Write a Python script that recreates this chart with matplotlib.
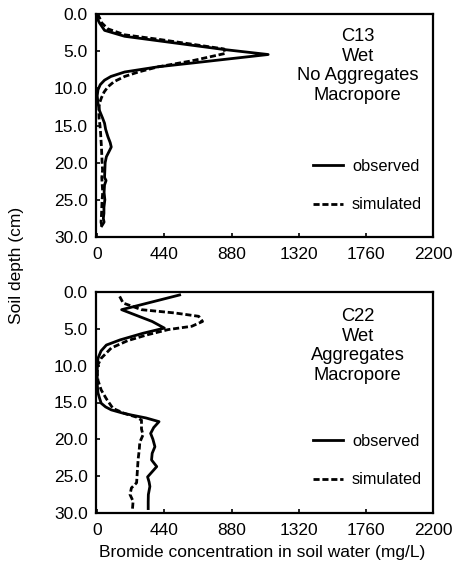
import matplotlib
matplotlib.use("Agg")
import matplotlib.pyplot as plt

plt.rcParams['font.family'] = ['Liberation Sans', 'DejaVu Sans']

# ---- data: top panel (C13) ----
c13_obs_depth = [0.0, 0.6, 1.2, 2.2, 3.0, 3.6, 4.2, 4.8, 5.45, 6.0, 6.6, 7.1, 7.8, 8.4, 8.9, 9.5, 10.2,
                 11.0, 12.0, 13.0, 14.0, 14.7, 15.5, 16.5, 17.3, 17.9, 18.6, 19.2, 20.0, 21.0, 22.0,
                 22.4, 23.0, 24.0, 25.0, 26.0, 26.8, 27.5, 28.0, 28.5]
c13_obs_conc = [10, 0, 15, 48, 180, 400, 620, 840, 1120, 880, 620, 400, 180, 90, 48, 20, 5,
                0, 5, 15, 35, 48, 55, 70, 85, 92, 75, 60, 52, 50, 48,
                58, 48, 45, 50, 44, 44, 40, 45, 30]

c13_sim_depth = [0.0, 0.5, 1.2, 2.0, 2.8, 3.4, 4.0, 4.7, 5.3, 6.3, 7.1, 7.8, 8.4, 9.1, 9.8, 10.5,
                 11.3, 12.0, 13.0, 14.0, 15.0, 16.0, 17.0, 18.0, 19.0, 20.0, 21.0, 22.0, 23.0,
                 24.0, 25.0, 26.0, 27.0, 28.0, 28.5]
c13_sim_conc = [0, 15, 30, 70, 180, 400, 600, 830, 840, 620, 400, 270, 180, 110, 70, 45,
                27, 15, 10, 12, 18, 22, 25, 28, 30, 32, 35, 30, 33,
                36, 32, 30, 28, 25, 30]

# ---- data: bottom panel (C22) ----
c22_obs_depth = [0.4, 1.4, 2.4, 3.2, 4.0, 4.9, 5.6, 6.5, 7.2, 8.0, 9.0, 10.5, 11.5, 12.5, 13.7,
                 14.4, 15.1, 15.6, 16.0, 16.4, 16.7, 17.1, 17.6, 18.4, 19.2, 20.0, 21.0, 21.9,
                 22.8, 23.7, 24.4, 25.1, 25.8, 26.4, 27.5, 28.5, 29.4]
c22_obs_conc = [540, 350, 160, 260, 360, 440, 300, 150, 60, 25, 5, 0, 0, 0, 5,
                15, 26, 55, 92, 160, 224, 320, 405, 370, 350, 365, 378, 360,
                356, 390, 360, 330, 340, 345, 335, 334, 334]

c22_sim_depth = [0.6, 1.5, 2.4, 2.85, 3.3, 4.0, 4.65, 5.1, 5.8, 6.6, 7.6, 9.0, 9.9, 11.0, 12.0,
                 13.3, 14.5, 15.8, 16.5, 17.0, 17.4, 18.6, 19.4, 20.4, 21.5, 22.7, 24.6, 25.9,
                 26.6, 27.5, 28.4, 29.7]
c22_sim_conc = [147, 170, 290, 510, 665, 690, 620, 466, 330, 200, 92, 26, 4, 0, 5,
                26, 60, 103, 180, 260, 290, 290, 300, 279, 275, 268, 262, 258,
                224, 215, 235, 230]

xticks = [0, 440, 880, 1320, 1760, 2200]
yticks = [0.0, 5.0, 10.0, 15.0, 20.0, 25.0, 30.0]

panels = [
    ("C13\nWet\nNo Aggregates\nMacropore", c13_obs_depth, c13_obs_conc, c13_sim_depth, c13_sim_conc),
    ("C22\nWet\nAggregates\nMacropore", c22_obs_depth, c22_obs_conc, c22_sim_depth, c22_sim_conc),
]

W, H = 465, 572
fig = plt.figure(figsize=(W / 100, H / 100), dpi=100)

boxes = [(96, 14, 433, 237), (96, 292, 433, 513)]
text_y = [0.767, 0.756]
leg_y = [0.231, 0.238]

for i, ((title, od, oc, sd, sc), (l, t, r, b)) in enumerate(zip(panels, boxes)):
    ax = fig.add_axes([l / W, 1 - b / H, (r - l) / W, (b - t) / H])
    ax.plot(oc, od, color='black', lw=2.0, solid_joinstyle='round', label='observed')
    ax.plot(sc, sd, color='black', lw=2.0, ls=(0, (2.2, 1.0)), label='simulated')
    ax.set_xlim(-8, 2200)
    ax.set_ylim(30, 0)
    ax.set_xticks(xticks)
    ax.set_xticklabels([str(v) for v in xticks])
    ax.set_yticks(yticks)
    ax.set_yticklabels([f"{v:.1f}" for v in yticks])
    ax.tick_params(direction='in', length=3, width=1.2, labelsize=12.5, colors='black')
    ax.tick_params(axis='x', pad=7)
    ax.tick_params(axis='y', pad=6)
    for s in ax.spines.values():
        s.set_linewidth(1.6)
    ax.text(0.777, text_y[i], title, transform=ax.transAxes, ha='center', va='center',
            fontsize=13.2, linespacing=1.2)
    leg = ax.legend(loc='center left', bbox_to_anchor=(0.643, leg_y[i]), frameon=False,
                    fontsize=11.8, handlelength=1.85, handletextpad=0.55, labelspacing=1.45,
                    borderpad=0, borderaxespad=0)

fig.text(17 / W, 1 - 265 / H, "Soil depth (cm)", rotation=90, ha='center', va='center', fontsize=12.5)
fig.text(262 / W, 1 - 553 / H, "Bromide concentration in soil water (mg/L)", ha='center',
         va='center', fontsize=12.5)

fig.savefig("out.png", dpi=100)
